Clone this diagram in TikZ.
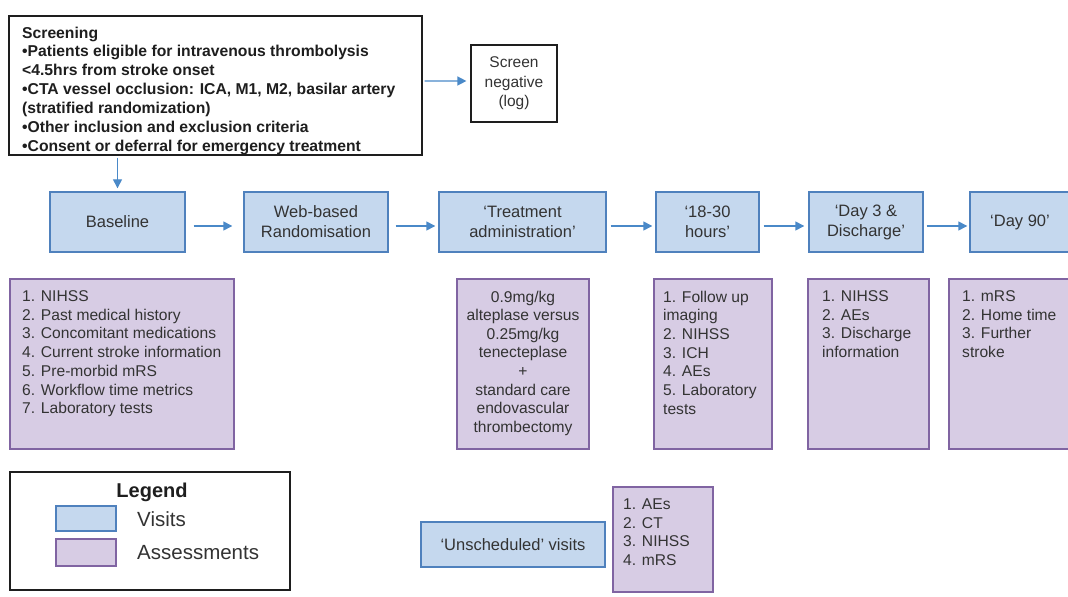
\documentclass[tikz,border=0pt]{standalone}
\usepackage{fontspec}
\setmainfont{Liberation Sans}
\usetikzlibrary{arrows.meta}
\definecolor{visitfill}{HTML}{C5D8EE}
\definecolor{visitdraw}{HTML}{4F81BD}
\definecolor{assfill}{HTML}{D7CCE4}
\definecolor{assdraw}{HTML}{8064A2}
\definecolor{arrowcol}{HTML}{4A89C8}
\definecolor{txt}{HTML}{333333}
\definecolor{dark}{HTML}{1E1E1E}
\begin{document}
\begin{tikzpicture}[x=1bp,y=-1bp,
  visit/.style={draw=visitdraw, fill=visitfill, line width=1.4bp, inner sep=0pt, text=txt, align=center, font=\fontsize{16.5bp}{20bp}\selectfont},
  assess/.style={draw=assdraw, fill=assfill, line width=1.4bp, inner sep=0pt},
  plainbox/.style={draw=dark, line width=1.2bp, inner sep=0pt},
  listtext/.style={anchor=north west, inner sep=0pt, text=txt, align=left, font=\fontsize{15.6bp}{18.7bp}\selectfont},
  arr/.style={draw=arrowcol, line width=1.4bp, -{Triangle[length=9bp,width=9bp]}}
]
\useasboundingbox (0,0) rectangle (1068,597);
\clip (0,0) rectangle (1068,597);
\fill[white] (0,0) rectangle (1068,597);

% Screening
\node[plainbox, minimum width=413bp, minimum height=139bp] (screen) at (215.5,85.5) {};
\node[anchor=north west, inner sep=0pt, text=dark, align=left, font=\bfseries\fontsize{15.7bp}{18.9bp}\selectfont] (screentext) at (22,26.5)
 {Screening\\
  •Patients eligible for intravenous thrombolysis\\
  <4.5hrs from stroke onset\\
  •CTA vessel occlusion: ICA, M1, M2, basilar artery\\
  (stratified randomization)\\
  •Other inclusion and exclusion criteria\\
  •Consent or deferral for emergency treatment};

\node[plainbox, minimum width=86bp, minimum height=77bp, text=txt, align=center, font=\fontsize{15.5bp}{19.5bp}\selectfont] (neg) at (514,83.5) {Screen\\negative\\(log)};

% Visits
\node[visit, minimum width=135bp, minimum height=60bp] (baseline) at (117.5,222) {Baseline};
\node[visit, minimum width=144bp, minimum height=60bp] (web) at (316,222) {Web-based\\Randomisation};
\node[visit, minimum width=167bp, minimum height=60bp] (treat) at (522.5,222) {‘Treatment\\administration’};
\node[visit, minimum width=103bp, minimum height=60bp] (h1830) at (707.5,222) {‘18-30\\hours’};
\node[visit, minimum width=114bp, minimum height=60bp] (day3) at (866,222) {‘Day 3 \&\\Discharge’};
\node[visit, minimum width=100bp, minimum height=60bp] (day90) at (1020,222) {‘Day 90’};

% Arrows
\draw[arr, shorten <=2bp, shorten >=4bp] ([yshift=4.5bp]screen.east) -- ([yshift=2.5bp]neg.west);
\draw[arr, shorten <=2bp, shorten >=3bp] (screen.south -| baseline.north) -- (baseline.north);
\draw[arr, shorten <=8bp, shorten >=11bp] ([yshift=-4bp]baseline.east) -- ([yshift=-4bp]web.west);
\draw[arr, shorten <=7bp, shorten >=3bp] ([yshift=-4bp]web.east) -- ([yshift=-4bp]treat.west);
\draw[arr, shorten <=4bp, shorten >=3bp] ([yshift=-4bp]treat.east) -- ([yshift=-4bp]h1830.west);
\draw[arr, shorten <=4bp, shorten >=4bp] ([yshift=-4bp]h1830.east) -- ([yshift=-4bp]day3.west);
\draw[arr, shorten <=3bp, shorten >=2bp] ([yshift=-4bp]day3.east) -- ([yshift=-4bp]day90.west);

% Assessments
\node[assess, minimum width=224bp, minimum height=170bp] (abase) at (122,364) {};
\node[listtext] (abasetext) at (22,290.5) {1. NIHSS\\2. Past medical history\\3. Concomitant medications\\4. Current stroke information\\5. Pre-morbid mRS\\6. Workflow time metrics\\7. Laboratory tests};

\node[assess, minimum width=132bp, minimum height=170bp] (atreat) at (523,364) {};
\node[anchor=north, inner sep=0pt, text=txt, align=center, font=\fontsize{15.6bp}{18.6bp}\selectfont] (atreattext) at (523,290.5) {0.9mg/kg\\alteplase versus\\0.25mg/kg\\tenecteplase\\+\\standard care\\endovascular\\thrombectomy};

\node[assess, minimum width=118bp, minimum height=170bp] (a1830) at (713,364) {};
\node[listtext] (a1830text) at (663,290.5) {1. Follow up\\imaging\\2. NIHSS\\3. ICH\\4. AEs\\5. Laboratory\\tests};

\node[assess, minimum width=121bp, minimum height=170bp] (aday3) at (868.5,364) {};
\node[listtext] (aday3text) at (822,290.5) {1. NIHSS\\2. AEs\\3. Discharge\\information};

\node[assess, minimum width=126bp, minimum height=170bp] (aday90) at (1012,364) {};
\node[listtext] (aday90text) at (962,290.5) {1. mRS\\2. Home time\\3. Further\\stroke};

% Legend
\node[plainbox, minimum width=280bp, minimum height=118bp] (legend) at (150,531) {};
\node[inner sep=0pt, text=dark, font=\bfseries\fontsize{20bp}{24bp}\selectfont] (legendtitle) at (152,492) {Legend};
\node[visit, minimum width=60bp, minimum height=25bp] (lvisit) at (86,518.5) {};
\node[assess, minimum width=60bp, minimum height=27bp] (lass) at (86,552.5) {};
\node[anchor=west, inner sep=0pt, text=txt, font=\fontsize{20.5bp}{24bp}\selectfont] (lvisittext) at (137,519.5) {Visits};
\node[anchor=west, inner sep=0pt, text=txt, font=\fontsize{20.5bp}{24bp}\selectfont] (lasstext) at (137,552.5) {Assessments};

% Unscheduled
\node[visit, minimum width=184bp, minimum height=45bp, font=\fontsize{16.5bp}{20bp}\selectfont] (unsched) at (513,544.5) {‘Unscheduled’ visits};
\node[assess, minimum width=100bp, minimum height=105bp] (aunsched) at (663,539.5) {};
\node[listtext] (aunschedtext) at (623,498.5) {1. AEs\\2. CT\\3. NIHSS\\4. mRS};
\end{tikzpicture}
\end{document}
